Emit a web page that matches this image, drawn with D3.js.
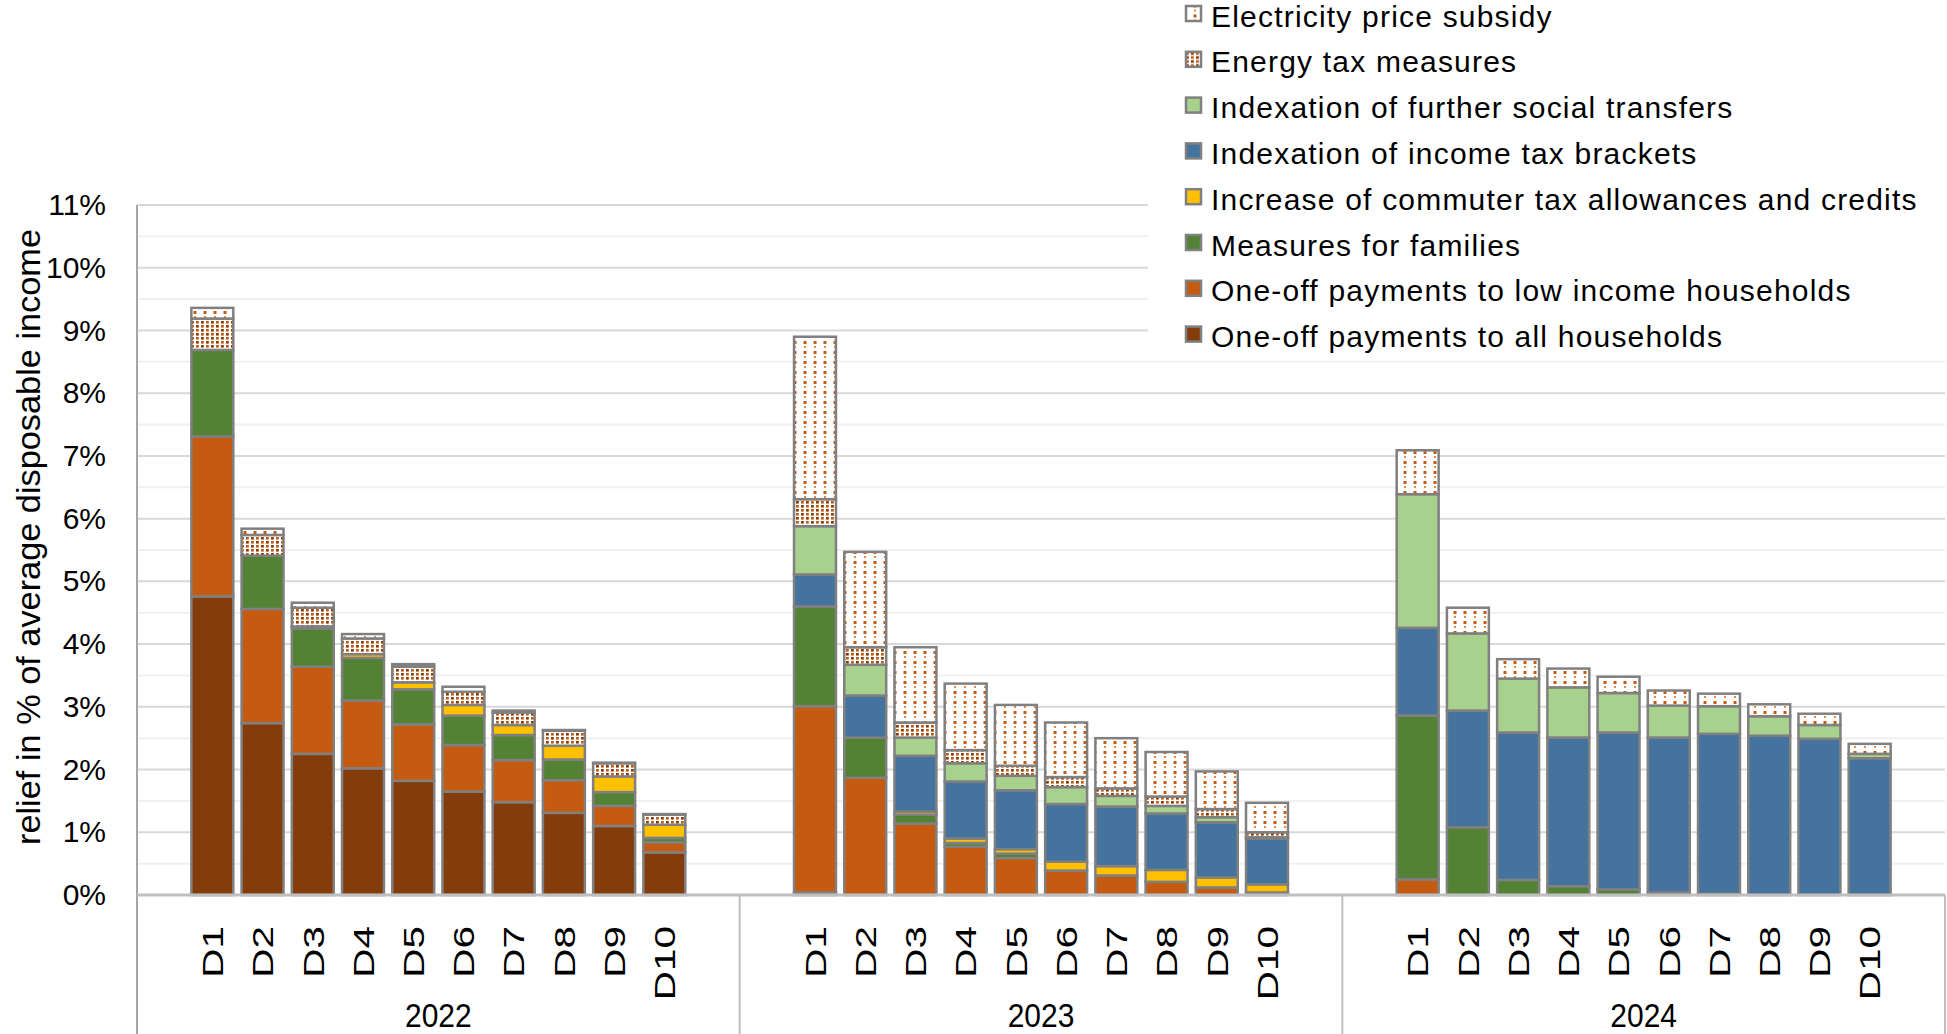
<!DOCTYPE html>
<html>
<head>
<meta charset="utf-8">
<title>Relief measures by income decile</title>
<script src="https://cdn.jsdelivr.net/npm/d3@7"></script>
<style>
  html, body { margin: 0; padding: 0; background: #fff; }
  svg { display: block; font-family: "Liberation Sans", Arial, Helvetica, sans-serif; }
</style>
</head>
<body>
<svg id="chart" width="1947" height="1034"></svg>
<script>
// ---- data (relief in % of average disposable income), 2022 D1..D10, 2023 D1..D10, 2024 D1..D10 ----
const years = ["2022", "2023", "2024"];
const deciles = ["D1", "D2", "D3", "D4", "D5", "D6", "D7", "D8", "D9", "D10"];
const yTicks = [0, 1, 2, 3, 4, 5, 6, 7, 8, 9, 10, 11];

const allHouseholds = [
  4.76, 2.74, 2.25, 2.02, 1.82, 1.65, 1.48, 1.31, 1.10, 0.68,
  0.04, 0, 0, 0, 0, 0, 0, 0, 0, 0,
  0, 0, 0, 0, 0, 0, 0, 0, 0, 0
];
const lowIncome = [
  2.55, 1.82, 1.39, 1.08, 0.90, 0.74, 0.67, 0.52, 0.32, 0.16,
  2.97, 1.87, 1.14, 0.77, 0.59, 0.39, 0.31, 0.21, 0.12, 0.04,
  0.25, 0, 0, 0, 0, 0, 0, 0, 0, 0
];
const families = [
  1.38, 0.85, 0.61, 0.68, 0.56, 0.47, 0.40, 0.33, 0.22, 0.07,
  1.59, 0.64, 0.14, 0.06, 0.07, 0, 0, 0, 0, 0,
  2.61, 1.08, 0.24, 0.14, 0.09, 0.04, 0.02, 0, 0, 0
];
const commuter = [
  0, 0, 0.03, 0.06, 0.11, 0.17, 0.16, 0.22, 0.25, 0.21,
  0, 0, 0.05, 0.07, 0.07, 0.14, 0.15, 0.19, 0.16, 0.13,
  0, 0, 0, 0, 0, 0, 0, 0, 0, 0
];
const incomeTaxBrackets = [
  0, 0, 0, 0, 0, 0, 0, 0, 0, 0,
  0.51, 0.67, 0.89, 0.91, 0.94, 0.92, 0.95, 0.90, 0.88, 0.73,
  1.40, 1.86, 2.35, 2.37, 2.50, 2.47, 2.55, 2.54, 2.49, 2.18
];
const socialTransfers = [
  0, 0, 0, 0, 0, 0, 0, 0, 0, 0,
  0.77, 0.49, 0.29, 0.29, 0.23, 0.27, 0.17, 0.12, 0.08, 0.02,
  2.13, 1.23, 0.86, 0.80, 0.63, 0.51, 0.44, 0.31, 0.22, 0.07
];
const energyTax = [
  0.50, 0.33, 0.30, 0.25, 0.25, 0.21, 0.20, 0.24, 0.21, 0.16,
  0.43, 0.28, 0.24, 0.21, 0.16, 0.16, 0.12, 0.15, 0.13, 0.08,
  0, 0, 0, 0, 0, 0, 0, 0, 0, 0
];
const electricitySubsidy = [
  0.17, 0.10, 0.08, 0.07, 0.04, 0.08, 0.03, 0.01, 0.01, 0.01,
  2.59, 1.52, 1.20, 1.06, 0.97, 0.87, 0.80, 0.71, 0.60, 0.47,
  0.70, 0.41, 0.31, 0.30, 0.26, 0.24, 0.20, 0.19, 0.18, 0.16
];

// stacking order, bottom to top
const series = [
  { key: "all",      label: "One-off payments to all households",           values: allHouseholds,      fill: "#843c0c" },
  { key: "low",      label: "One-off payments to low income households",    values: lowIncome,          fill: "#c55a11" },
  { key: "fam",      label: "Measures for families",                         values: families,           fill: "#548235" },
  { key: "commuter", label: "Increase of commuter tax allowances and credits", values: commuter,         fill: "#ffc000" },
  { key: "income",   label: "Indexation of income tax brackets",             values: incomeTaxBrackets,  fill: "#44739e" },
  { key: "social",   label: "Indexation of further social transfers",        values: socialTransfers,    fill: "#a9d18e" },
  { key: "energy",   label: "Energy tax measures",                           values: energyTax,          fill: "url(#pat-energy)" },
  { key: "elec",     label: "Electricity price subsidy",                     values: electricitySubsidy, fill: "url(#pat-elec)" }
];

const rows = [];
years.forEach((yr, i) => {
  deciles.forEach((dc, j) => {
    const row = { year: yr, decile: dc };
    series.forEach(s => { row[s.key] = s.values[i * 10 + j]; });
    rows.push(row);
  });
});

// ---- layout ----
const svg = d3.select("#chart");
const plot = { left: 137, right: 1945, top: 205, bottom: 895 };
const FONT = 30;

const y = d3.scaleLinear().domain([0, 11]).range([plot.bottom, plot.top]);
const xYear = d3.scaleBand().domain(years).range([plot.left, plot.right]);
const xDecile = d3.scaleBand().domain(deciles).range([0, xYear.bandwidth()])
  .paddingInner(0.165).paddingOuter(1.0825);

// ---- fill patterns ----
const defs = svg.append("defs");
const pElec = defs.append("pattern").attr("id", "pat-elec")
  .attr("patternUnits", "userSpaceOnUse").attr("width", 10).attr("height", 10);
pElec.append("rect").attr("width", 10).attr("height", 10).attr("fill", "#fff");
pElec.append("rect").attr("x", 3.5).attr("y", 1).attr("width", 3).attr("height", 3).attr("fill", "#c55a11");
pElec.append("rect").attr("x", 4).attr("y", 6).attr("width", 2).attr("height", 2).attr("fill", "#dc8a4e");

const pEnergy = defs.append("pattern").attr("id", "pat-energy")
  .attr("patternUnits", "userSpaceOnUse").attr("width", 10).attr("height", 8);
pEnergy.append("rect").attr("width", 10).attr("height", 8).attr("fill", "#fff");
[[1, 1, "#843c0c"], [6, 1, "#c55a11"], [1, 5, "#c55a11"], [6, 5, "#843c0c"]].forEach(([px, py, c]) => {
  pEnergy.append("rect").attr("x", px).attr("y", py).attr("width", 2.8).attr("height", 2.6).attr("fill", c);
});

// ---- gridlines ----
const grid = svg.append("g");
grid.selectAll("line.minor").data(d3.range(0.5, 11, 1)).join("line")
  .attr("class", "minor")
  .attr("x1", plot.left).attr("x2", plot.right)
  .attr("y1", d => y(d)).attr("y2", d => y(d))
  .attr("stroke", "#f0f0f0").attr("stroke-width", 2);
grid.selectAll("line.major").data(yTicks.slice(1)).join("line")
  .attr("class", "major")
  .attr("x1", plot.left).attr("x2", plot.right)
  .attr("y1", d => y(d)).attr("y2", d => y(d))
  .attr("stroke", "#d9d9d9").attr("stroke-width", 2);

// ---- stacked bars ----
const stacked = d3.stack().keys(series.map(s => s.key))(rows);
const barLayer = svg.append("g");
stacked.forEach((layer, k) => {
  barLayer.append("g")
    .attr("fill", series[k].fill)
    .selectAll("rect")
    .data(layer.filter(d => d[1] - d[0] > 0))
    .join("rect")
    .attr("x", d => xYear(d.data.year) + xDecile(d.data.decile))
    .attr("width", xDecile.bandwidth())
    .attr("y", d => y(d[1]))
    .attr("height", d => y(d[0]) - y(d[1]))
    .attr("stroke", "#808080")
    .attr("stroke-width", 2.5);
});

// ---- axes ----
const yAxis = d3.axisLeft(y).tickValues(yTicks).tickFormat(d => d + "%").tickSize(0).tickPadding(31);
const gy = svg.append("g").attr("transform", `translate(${plot.left},0)`).call(yAxis);
gy.select(".domain").remove();
gy.selectAll("text").attr("font-size", FONT).attr("fill", "#000").attr("font-family", null);

// axis lines and group separators
svg.append("line")
  .attr("x1", plot.left).attr("x2", plot.left).attr("y1", plot.top).attr("y2", 1034)
  .attr("stroke", "#a6a6a6").attr("stroke-width", 2);
svg.append("line")
  .attr("x1", plot.left).attr("x2", plot.right).attr("y1", plot.bottom).attr("y2", plot.bottom)
  .attr("stroke", "#bfbfbf").attr("stroke-width", 3);
svg.selectAll("line.sep").data(years.slice(1).map(d => xYear(d)).concat([plot.right])).join("line")
  .attr("class", "sep")
  .attr("x1", d => d).attr("x2", d => d).attr("y1", plot.bottom).attr("y2", 1034)
  .attr("stroke", "#bfbfbf").attr("stroke-width", 2);

// decile labels per year (rotated, drawn slightly elongated)
years.forEach(yr => {
  const gx = svg.append("g")
    .attr("transform", `translate(${xYear(yr)},${plot.bottom})`)
    .call(d3.axisBottom(xDecile).tickSize(0));
  gx.select(".domain").remove();
  gx.selectAll(".tick").each(function () {
    const t = d3.select(this);
    const tr = t.attr("transform");
    t.attr("transform", `${tr} translate(0,31) scale(1,1.35)`);
  });
  gx.selectAll("text")
    .attr("font-size", FONT).attr("fill", "#000").attr("font-family", null)
    .attr("transform", "rotate(-90)")
    .attr("x", 0).attr("y", 0).attr("dy", "0.36em")
    .style("text-anchor", "end");
});

// year labels
svg.append("g").selectAll("text").data(years).join("text")
  .attr("transform", d => `translate(${xYear(d) + xYear.bandwidth() / 2},1027) scale(1,1.12)`)
  .attr("text-anchor", "middle")
  .attr("font-size", FONT).attr("fill", "#000")
  .text(d => d);

// y axis title
svg.append("text")
  .attr("transform", `translate(40,537) scale(1,1.04) rotate(-90)`)
  .attr("text-anchor", "middle")
  .attr("font-size", 33).attr("fill", "#000")
  .text("relief in % of average disposable income");

// ---- legend ----
const legend = svg.append("g");
legend.append("rect").attr("x", 1148).attr("y", 0).attr("width", 1947 - 1148).attr("height", 352).attr("fill", "#fff");
const legendItems = series.slice().reverse();
const entry = legend.selectAll("g.entry").data(legendItems).join("g")
  .attr("class", "entry")
  .attr("transform", (d, i) => `translate(0,${13.5 + i * 45.8})`);
entry.append("rect")
  .attr("x", 1186).attr("y", -7.5).attr("width", 15).attr("height", 15)
  .attr("fill", d => d.fill).attr("stroke", "#808080").attr("stroke-width", 2.5);
entry.append("text")
  .attr("x", 1211).attr("y", 13)
  .attr("font-size", FONT).attr("letter-spacing", "1.2px").attr("fill", "#000")
  .text(d => d.label);
</script>
</body>
</html>
